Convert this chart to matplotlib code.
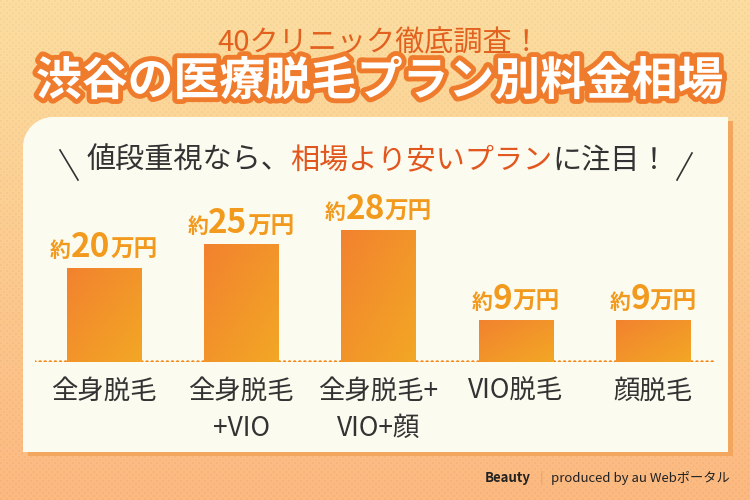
import numpy as np
import matplotlib.pyplot as plt
from matplotlib.patches import Rectangle, PathPatch
from matplotlib.path import Path
from matplotlib.colors import LinearSegmentedColormap
from matplotlib.offsetbox import TextArea, HPacker, AnnotationBbox
import matplotlib.patheffects as pe

plt.rcParams['font.family'] = ['Noto Sans CJK JP', 'DejaVu Sans']

# data
categories = ['全身脱毛', '全身脱毛\n+VIO', '全身脱毛+\nVIO+顔', 'VIO脱毛', '顔脱毛']
prices = [20, 25, 28, 9, 9]  # 万円
price_labels = ['20', '25', '28', '9', '9']

fig = plt.figure(figsize=(7.5, 5), dpi=100)

# background axes in pixel coords (y down)
bg = fig.add_axes([0, 0, 1, 1])
bg.set_xlim(0, 750)
bg.set_ylim(500, 0)
bg.axis('off')

# peach gradient with a fine dot texture
yy, xx = np.mgrid[0:500, 0:750]
t = (yy / 499.0)[..., None]
top = np.array([253, 222, 160]) / 255
bot = np.array([252, 185, 128]) / 255
img = top * (1 - t) + bot * t
dots = (((xx % 6) < 2) & ((yy % 6) < 2)) | ((((xx + 3) % 6) < 2) & (((yy + 3) % 6) < 2))
img[dots] *= 0.97
bg.imshow(img, extent=(0, 750, 500, 0), interpolation='nearest', aspect='auto', zorder=0)


def panel_path(x0, y0, x1, y1, r):
    k = 0.5523 * r
    verts = [(x0, y1), (x0, y0 + r), (x0, y0 + r - k), (x0 + r - k, y0), (x0 + r, y0),
             (x1, y0), (x1, y1), (x0, y1)]
    codes = [Path.MOVETO, Path.LINETO, Path.CURVE4, Path.CURVE4, Path.CURVE4,
             Path.LINETO, Path.LINETO, Path.CLOSEPOLY]
    return Path(verts, codes)


bg.add_patch(PathPatch(panel_path(28, 121, 733, 456, 30), fc='#F2A65E', ec='none', zorder=1))
bg.add_patch(PathPatch(panel_path(23, 117, 728, 452, 30), fc='#FCFBF0', ec='none', zorder=2))

# titles
bg.text(379, 43, '40クリニック徹底調査！', fontsize=21, color='#E2611F',
        ha='center', va='center', zorder=3)
bg.text(380, 82, '渋谷の医療脱毛プラン別料金相場', fontsize=33, fontweight='bold',
        color='white', ha='center', va='center', zorder=3,
        path_effects=[pe.withStroke(linewidth=7, foreground='#EF7B2C')])

# subtitle with highlighted part
sub = HPacker(children=[
    TextArea('値段重視なら、', textprops=dict(fontsize=21, color='#333333')),
    TextArea('相場より安いプラン', textprops=dict(fontsize=21, color='#E2571E')),
    TextArea('に注目！', textprops=dict(fontsize=21, color='#333333')),
], align='baseline', pad=0, sep=0)
bg.add_artist(AnnotationBbox(sub, (378, 161), xycoords='data', frameon=False,
                             box_alignment=(0.5, 0.5), pad=0, zorder=4))
bg.plot([60, 78], [150, 180], color='#333333', lw=1.2, zorder=4)
bg.plot([692, 677], [153, 180], color='#333333', lw=1.2, zorder=4)

# footer
foot = HPacker(children=[
    TextArea('Beauty', textprops=dict(fontsize=9.5, fontweight='bold', color='#222222')),
    TextArea('|', textprops=dict(fontsize=9.5, color='#E8A060')),
    TextArea('produced by au Webポータル', textprops=dict(fontsize=9.5, color='#222222')),
], align='baseline', pad=0, sep=6)
bg.add_artist(AnnotationBbox(foot, (730, 478), xycoords='data', frameon=False,
                             box_alignment=(1, 0.5), pad=0, zorder=4))

# chart axes: baseline at y=362 px, 4.7 px per 万円
ax = fig.add_axes([35 / 750, 138 / 500, 687 / 750, 162 / 500])
ax.patch.set_alpha(0)
ax.axis('off')

cmap = LinearSegmentedColormap.from_list('bar', ['#F2822F', '#F2A725'])
gy, gx = np.mgrid[0:1:60j, 0:1:60j]
grad = (gx + gy) / 2
w = 0.54
for i, v in enumerate(prices):
    rect = Rectangle((i - w / 2, 0), w, v, fc='none', ec='none')
    ax.add_patch(rect)
    im = ax.imshow(grad, cmap=cmap, extent=(i - w / 2, i + w / 2, 0, v),
                   aspect='auto', origin='upper', vmin=0, vmax=1, zorder=2)
    im.set_clip_path(rect)

    lab = HPacker(children=[
        TextArea('約', textprops=dict(fontsize=15, fontweight='bold', color='#F29A1E')),
        TextArea(price_labels[i], textprops=dict(fontsize=24, fontweight='bold', color='#F29A1E')),
        TextArea('万円', textprops=dict(fontsize=17, fontweight='bold', color='#F29A1E')),
    ], align='baseline', pad=0, sep=0)
    ax.add_artist(AnnotationBbox(lab, (i, v), xycoords='data', xybox=(0, 3),
                                 boxcoords='offset points', frameon=False,
                                 box_alignment=(0.5, 0), pad=0))

    ax.annotate(categories[i], (i, 0), xytext=(0, -11), textcoords='offset points',
                ha='center', va='top', fontsize=19, color='#333333',
                multialignment='center', linespacing=1.5)

ax.axhline(0, xmin=0, xmax=680 / 687, color='#F28A1E', lw=2.6, ls=(0, (0.01, 1.4)),
           dash_capstyle='round', zorder=1)
ax.set_xlim(-0.5, 4.5)
ax.set_ylim(0, 162 / 4.7)

fig.savefig('out.png', dpi=100)
